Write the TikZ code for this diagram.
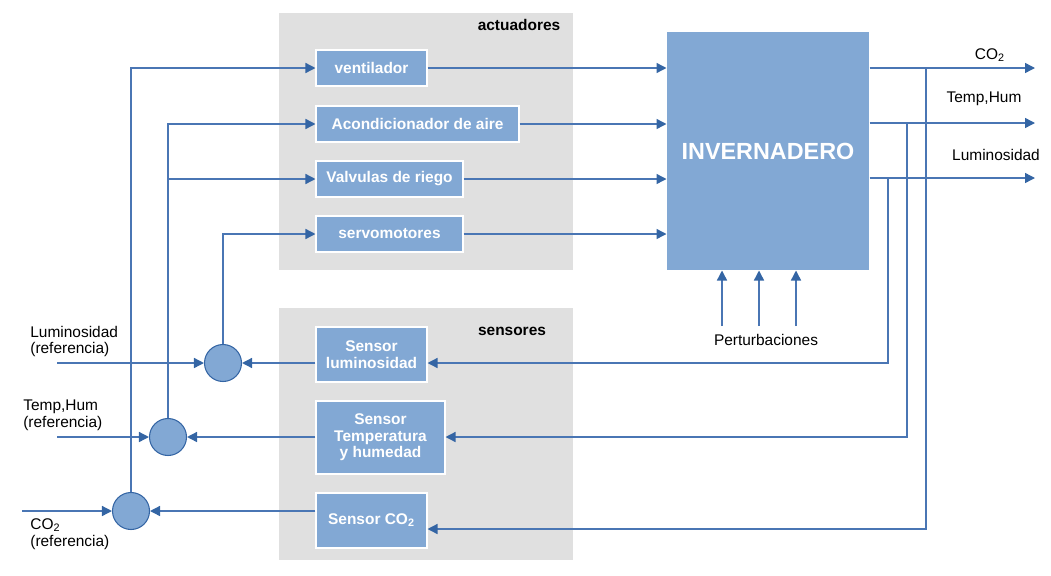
\documentclass[tikz,border=0pt]{standalone}
\usepackage{fontspec}
\setmainfont{Liberation Sans}
\usetikzlibrary{arrows.meta}
\definecolor{panelgray}{HTML}{E0E0E0}
\definecolor{blkblue}{HTML}{82A8D4}
\definecolor{lineblue}{HTML}{4A76B4}
\definecolor{tipblue}{HTML}{3465A4}
\tikzset{
  blk/.style={rectangle, fill=blkblue, draw=white, line width=0.6pt, text=white,
    font=\fontsize{8.8}{9.5}\selectfont\bfseries, align=center, inner sep=0pt},
  sumnode/.style={circle, fill=blkblue, draw=tipblue, line width=0.6pt,
    minimum size=0.74cm, inner sep=0pt},
  flow/.style={draw=lineblue, line width=0.8pt,
    -{Triangle[length=0.2cm,width=0.2cm,color=tipblue]}},
  wire/.style={draw=lineblue, line width=0.8pt},
  lbl/.style={font=\fontsize{8.8}{9.6}\selectfont, text=black, inner sep=0pt},
  paneltitle/.style={font=\fontsize{8.8}{9.6}\selectfont\bfseries, text=black, inner sep=0pt},
}
\begin{document}
\begin{tikzpicture}[x=0.02cm, y=-0.02cm]
  %Canvas
  \useasboundingbox (0,0) rectangle (1051,575);

  %Panels
  \fill[panelgray] (279,13) rectangle (573,270);
  \fill[panelgray] (279,308) rectangle (573,560);
  \node[paneltitle] (actlbl) at (519,25) {actuadores};
  \node[paneltitle] (senlbl) at (512,331) {sensores};

  %Actuators
  \node[blk, minimum width=2.22cm, minimum height=0.72cm] (ven) at (371.5,68) {ventilador};
  \node[blk, minimum width=4.06cm, minimum height=0.72cm] (aco) at (417.5,124) {Acondicionador de aire};
  \node[blk, minimum width=2.94cm, minimum height=0.72cm] (val) at (389.5,179) {Valvulas de riego};
  \node[blk, minimum width=2.94cm, minimum height=0.72cm] (servo) at (389.5,234) {servomotores};

  %Plant
  \node[blk, draw=none, minimum width=4.04cm, minimum height=4.76cm,
    font=\fontsize{13.3}{15}\selectfont\bfseries] (inv) at (768,151) {INVERNADERO};

  %Sensors
  \node[blk, minimum width=2.22cm, minimum height=1.1cm] (slum) at (371.5,354.5) {Sensor\\luminosidad};
  \node[blk, minimum width=2.58cm, minimum height=1.46cm] (stemp) at (380.5,437.5) {Sensor\\Temperatura\\y humedad};
  \node[blk, minimum width=2.22cm, minimum height=1.1cm] (sco2) at (371.5,520.5) {Sensor CO\textsubscript{2}};

  %Comparators
  \node[sumnode] (clum) at (223,363) {};
  \node[sumnode] (ctemp) at (168,437) {};
  \node[sumnode] (cco2) at (131,511) {};

  %Actuators to plant
  \draw[flow] (ven.east) -- (ven.east -| inv.west);
  \draw[flow] (aco.east) -- (aco.east -| inv.west);
  \draw[flow] (val.east) -- (val.east -| inv.west);
  \draw[flow] (servo.east) -- (servo.east -| inv.west);

  %Outputs
  \coordinate (oco2) at (1035,68);
  \coordinate (otemp) at (1035,123);
  \coordinate (olum) at (1035,178);
  \draw[flow] (oco2 -| inv.east) -- (oco2);
  \draw[flow] (otemp -| inv.east) -- (otemp);
  \draw[flow] (olum -| inv.east) -- (olum);
  \node[lbl] (lco2) at (990,55) {CO\textsubscript{2}};
  \node[lbl] (ltemp) at (984,99) {Temp,Hum};
  \node[lbl] (llum) at (996,155) {Luminosidad};

  %Feedback
  \coordinate (fco2) at (926,68);
  \coordinate (fco2b) at (926,529);
  \coordinate (ftemp) at (907,123);
  \coordinate (flum) at (888,178);
  \draw[flow] (flum) |- (slum.east |- clum);
  \draw[flow] (ftemp) |- (stemp.east |- ctemp);
  \draw[flow] (fco2) -- (fco2b) -- (fco2b -| sco2.east);

  %Sensors to comparators
  \draw[flow] (slum.west |- clum) -- (clum.east);
  \draw[flow] (stemp.west |- ctemp) -- (ctemp.east);
  \draw[flow] (sco2.west |- cco2) -- (cco2.east);

  %References
  \coordinate (rlum) at (57,363);
  \coordinate (rtemp) at (57,437);
  \coordinate (rco2) at (22,511);
  \draw[flow] (rlum) -- (clum.west);
  \draw[flow] (rtemp) -- (ctemp.west);
  \draw[flow] (rco2) -- (cco2.west);
  \node[lbl, anchor=west, align=left] (reflum) at (30,341.5) {Luminosidad\\(referencia)};
  \node[lbl, anchor=west, align=left] (reftemp) at (23,415.5) {Temp,Hum\\(referencia)};
  \node[lbl, anchor=west, align=left] (refco2) at (30,534.5) {CO\textsubscript{2}\\(referencia)};

  %Control signals
  \draw[flow] (clum.north) |- (servo.west);
  \draw[flow] (ctemp.north) |- (aco.west);
  \draw[flow] (ctemp.north |- val.west) -- (val.west);
  \draw[flow] (cco2.north) |- (ven.west);

  %Disturbances
  \coordinate (d1) at (722,326);
  \coordinate (d2) at (759,326);
  \coordinate (d3) at (796,326);
  \draw[flow] (d1) -- (d1 |- inv.south);
  \draw[flow] (d2) -- (d2 |- inv.south);
  \draw[flow] (d3) -- (d3 |- inv.south);
  \node[lbl] (dist) at (766,340) {Perturbaciones};
\end{tikzpicture}
\end{document}
